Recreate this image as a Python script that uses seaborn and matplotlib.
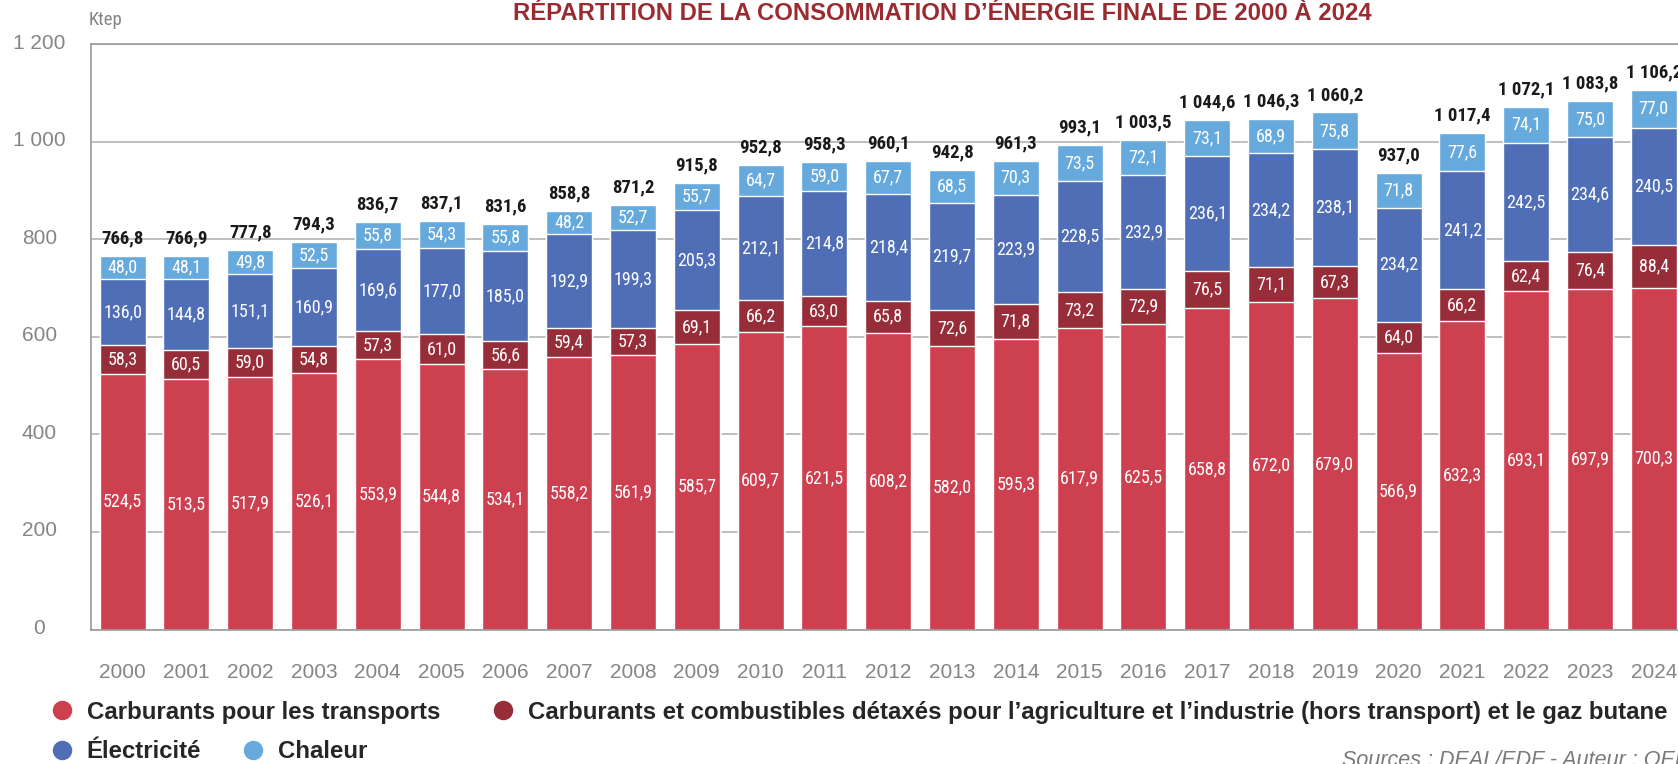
import numpy as np
import pandas as pd
import matplotlib
matplotlib.use("Agg")
import matplotlib.pyplot as plt
import matplotlib.transforms as mtransforms
from matplotlib import font_manager
from matplotlib.ticker import FixedLocator, FuncFormatter
from matplotlib.lines import Line2D
import seaborn as sns

# Data (ktep)
years = [str(y) for y in range(2000, 2025)]
transports = [524.5, 513.5, 517.9, 526.1, 553.9, 544.8, 534.1, 558.2, 561.9, 585.7,
              609.7, 621.5, 608.2, 582.0, 595.3, 617.9, 625.5, 658.8, 672.0, 679.0,
              566.9, 632.3, 693.1, 697.9, 700.3]
detaxes = [58.3, 60.5, 59.0, 54.8, 57.3, 61.0, 56.6, 59.4, 57.3, 69.1,
           66.2, 63.0, 65.8, 72.6, 71.8, 73.2, 72.9, 76.5, 71.1, 67.3,
           64.0, 66.2, 62.4, 76.4, 88.4]
electricite = [136.0, 144.8, 151.1, 160.9, 169.6, 177.0, 185.0, 192.9, 199.3, 205.3,
               212.1, 214.8, 218.4, 219.7, 223.9, 228.5, 232.9, 236.1, 234.2, 238.1,
               234.2, 241.2, 242.5, 234.6, 240.5]
chaleur = [48.0, 48.1, 49.8, 52.5, 55.8, 54.3, 55.8, 48.2, 52.7, 55.7,
           64.7, 59.0, 67.7, 68.5, 70.3, 73.5, 72.1, 73.1, 68.9, 75.8,
           71.8, 77.6, 74.1, 75.0, 77.0]
totals = [766.8, 766.9, 777.8, 794.3, 836.7, 837.1, 831.6, 858.8, 871.2, 915.8,
          952.8, 958.3, 960.1, 942.8, 961.3, 993.1, 1003.5, 1044.6, 1046.3, 1060.2,
          937.0, 1017.4, 1072.1, 1083.8, 1106.2]

series_names = [
    "Carburants pour les transports",
    "Carburants et combustibles détaxés pour l’agriculture et l’industrie (hors transport) et le gaz butane",
    "Électricité",
    "Chaleur",
]
colors = ["#cd404f", "#982d3a", "#4f6eb6", "#66aadd"]

df = pd.DataFrame({"annee": years, "transports": transports, "detaxes": detaxes,
                   "electricite": electricite, "chaleur": chaleur})
cols = ["transports", "detaxes", "electricite", "chaleur"]
cum = df[cols].cumsum(axis=1)


# pick a narrow font that is actually installed, fall back to Roboto / Liberation
def pick_font(cands, bold=False):
    for name in cands:
        ws = []
        for f in font_manager.fontManager.ttflist:
            if f.name == name and f.style == "normal":
                try:
                    ws.append(int(f.weight))
                except (TypeError, ValueError):
                    ws.append(700 if "bold" in str(f.weight) else 400)
        if ws and (not bold or max(ws) >= 600):
            return name
    return "Liberation Sans"


narrow_cands = ["Roboto Condensed", "Fira Sans Condensed", "PT Sans Narrow",
                "Liberation Sans Narrow", "Archivo Narrow", "Encode Sans Condensed",
                "Barlow Semi Condensed", "Roboto"]
NARROW = [pick_font(narrow_cands), "DejaVu Sans"]
NARROW_B = [pick_font(narrow_cands, bold=True), "DejaVu Sans"]

sns.set_style("white")
SANS = ["Liberation Sans", "DejaVu Sans"]
plt.rcParams["font.family"] = SANS

W, H = 1678, 764
fig = plt.figure(figsize=(W / 100, H / 100), dpi=100)
ax = fig.add_axes([90.7 / W, 1 - 629.5 / H, 25 * 63.8 / W, 585.2 / H])

# stacked bars: draw cumulative tops from the highest down
for col, c in zip(reversed(cols), reversed(colors)):
    sns.barplot(x=df["annee"], y=cum[col], color=c, width=0.72, saturation=1,
                ax=ax, zorder=2)

# segment labels and totals
for i in range(len(years)):
    bottom = 0
    for col in cols:
        v = df[col].iloc[i]
        ax.text(i, bottom + v / 2, f"{v:.1f}".replace(".", ","), ha="center", va="center",
                color="white", fontsize=13, family=NARROW, zorder=3)
        bottom += v
    top = cum["chaleur"].iloc[i]
    ax.annotate(f"{totals[i]:,.1f}".replace(",", " ").replace(".", ","),
                (i, top), xytext=(0, 12.6), textcoords="offset points",
                ha="center", va="center", fontsize=13.5, fontweight="bold",
                family=NARROW_B, color="#1a1a1a")

ax.set_xlim(-0.5, 24.5)
ax.set_ylim(0, 1200)
ax.set_xlabel("")
ax.set_ylabel("")
ax.set_yticks(range(0, 1201, 200))
ax.yaxis.set_major_formatter(FuncFormatter(lambda v, p: f"{int(v):,}".replace(",", " ")))
ax.grid(axis="y", color="#b4b4b4", linewidth=1.2, zorder=0)
ax.set_axisbelow(True)
ax.spines["right"].set_visible(False)
for s in ["left", "bottom", "top"]:
    ax.spines[s].set_color("#9a9a9a")
    ax.spines[s].set_linewidth(1.2)

ax.xaxis.set_minor_locator(FixedLocator(np.arange(0.5, 24, 1)))
ax.tick_params(axis="x", which="major", length=0, pad=24, labelsize=15, labelcolor="#858585")
ax.tick_params(axis="x", which="minor", direction="in", length=11, width=1, color="#9a9a9a")
ax.tick_params(axis="y", length=0, pad=37, labelsize=15, labelcolor="#858585")
offset = mtransforms.ScaledTranslation(0, 3 / 100, fig.dpi_scale_trans)
for lab in ax.get_yticklabels():
    lab.set_horizontalalignment("center")
    lab.set_transform(lab.get_transform() + offset)

# title and unit
fig.text(942 / W, 1 - 14 / H, "RÉPARTITION DE LA CONSOMMATION D’ÉNERGIE FINALE DE 2000 À 2024",
         ha="center", va="center", fontsize=17.2, fontweight="bold", color="#9a2b30")
fig.text(105 / W, 1 - 20 / H, "Ktep", ha="center", va="center", fontsize=13.5,
         color="#858585", family=NARROW)

# legend items placed one by one
legend_pos = [(50, 712), (491, 712), (50, 752), (241, 752)]
for name, c, (lx, ly) in zip(series_names, colors, legend_pos):
    h = Line2D([], [], marker="o", ls="", color=c, markersize=13)
    fig.legend([h], [name], loc="center left", bbox_to_anchor=(lx / W, 1 - ly / H),
               frameon=False, borderpad=0, borderaxespad=0, handlelength=1,
               handletextpad=0.52, prop={"family": SANS, "weight": "bold", "size": 17.3})

fig.text(1342 / W, -2 / H, "Sources : DEAL/EDF - Auteur : OEF", ha="left", va="baseline",
         fontsize=15.5, style="italic", color="#7a7a7a")

fig.savefig("out.png", dpi=100)
